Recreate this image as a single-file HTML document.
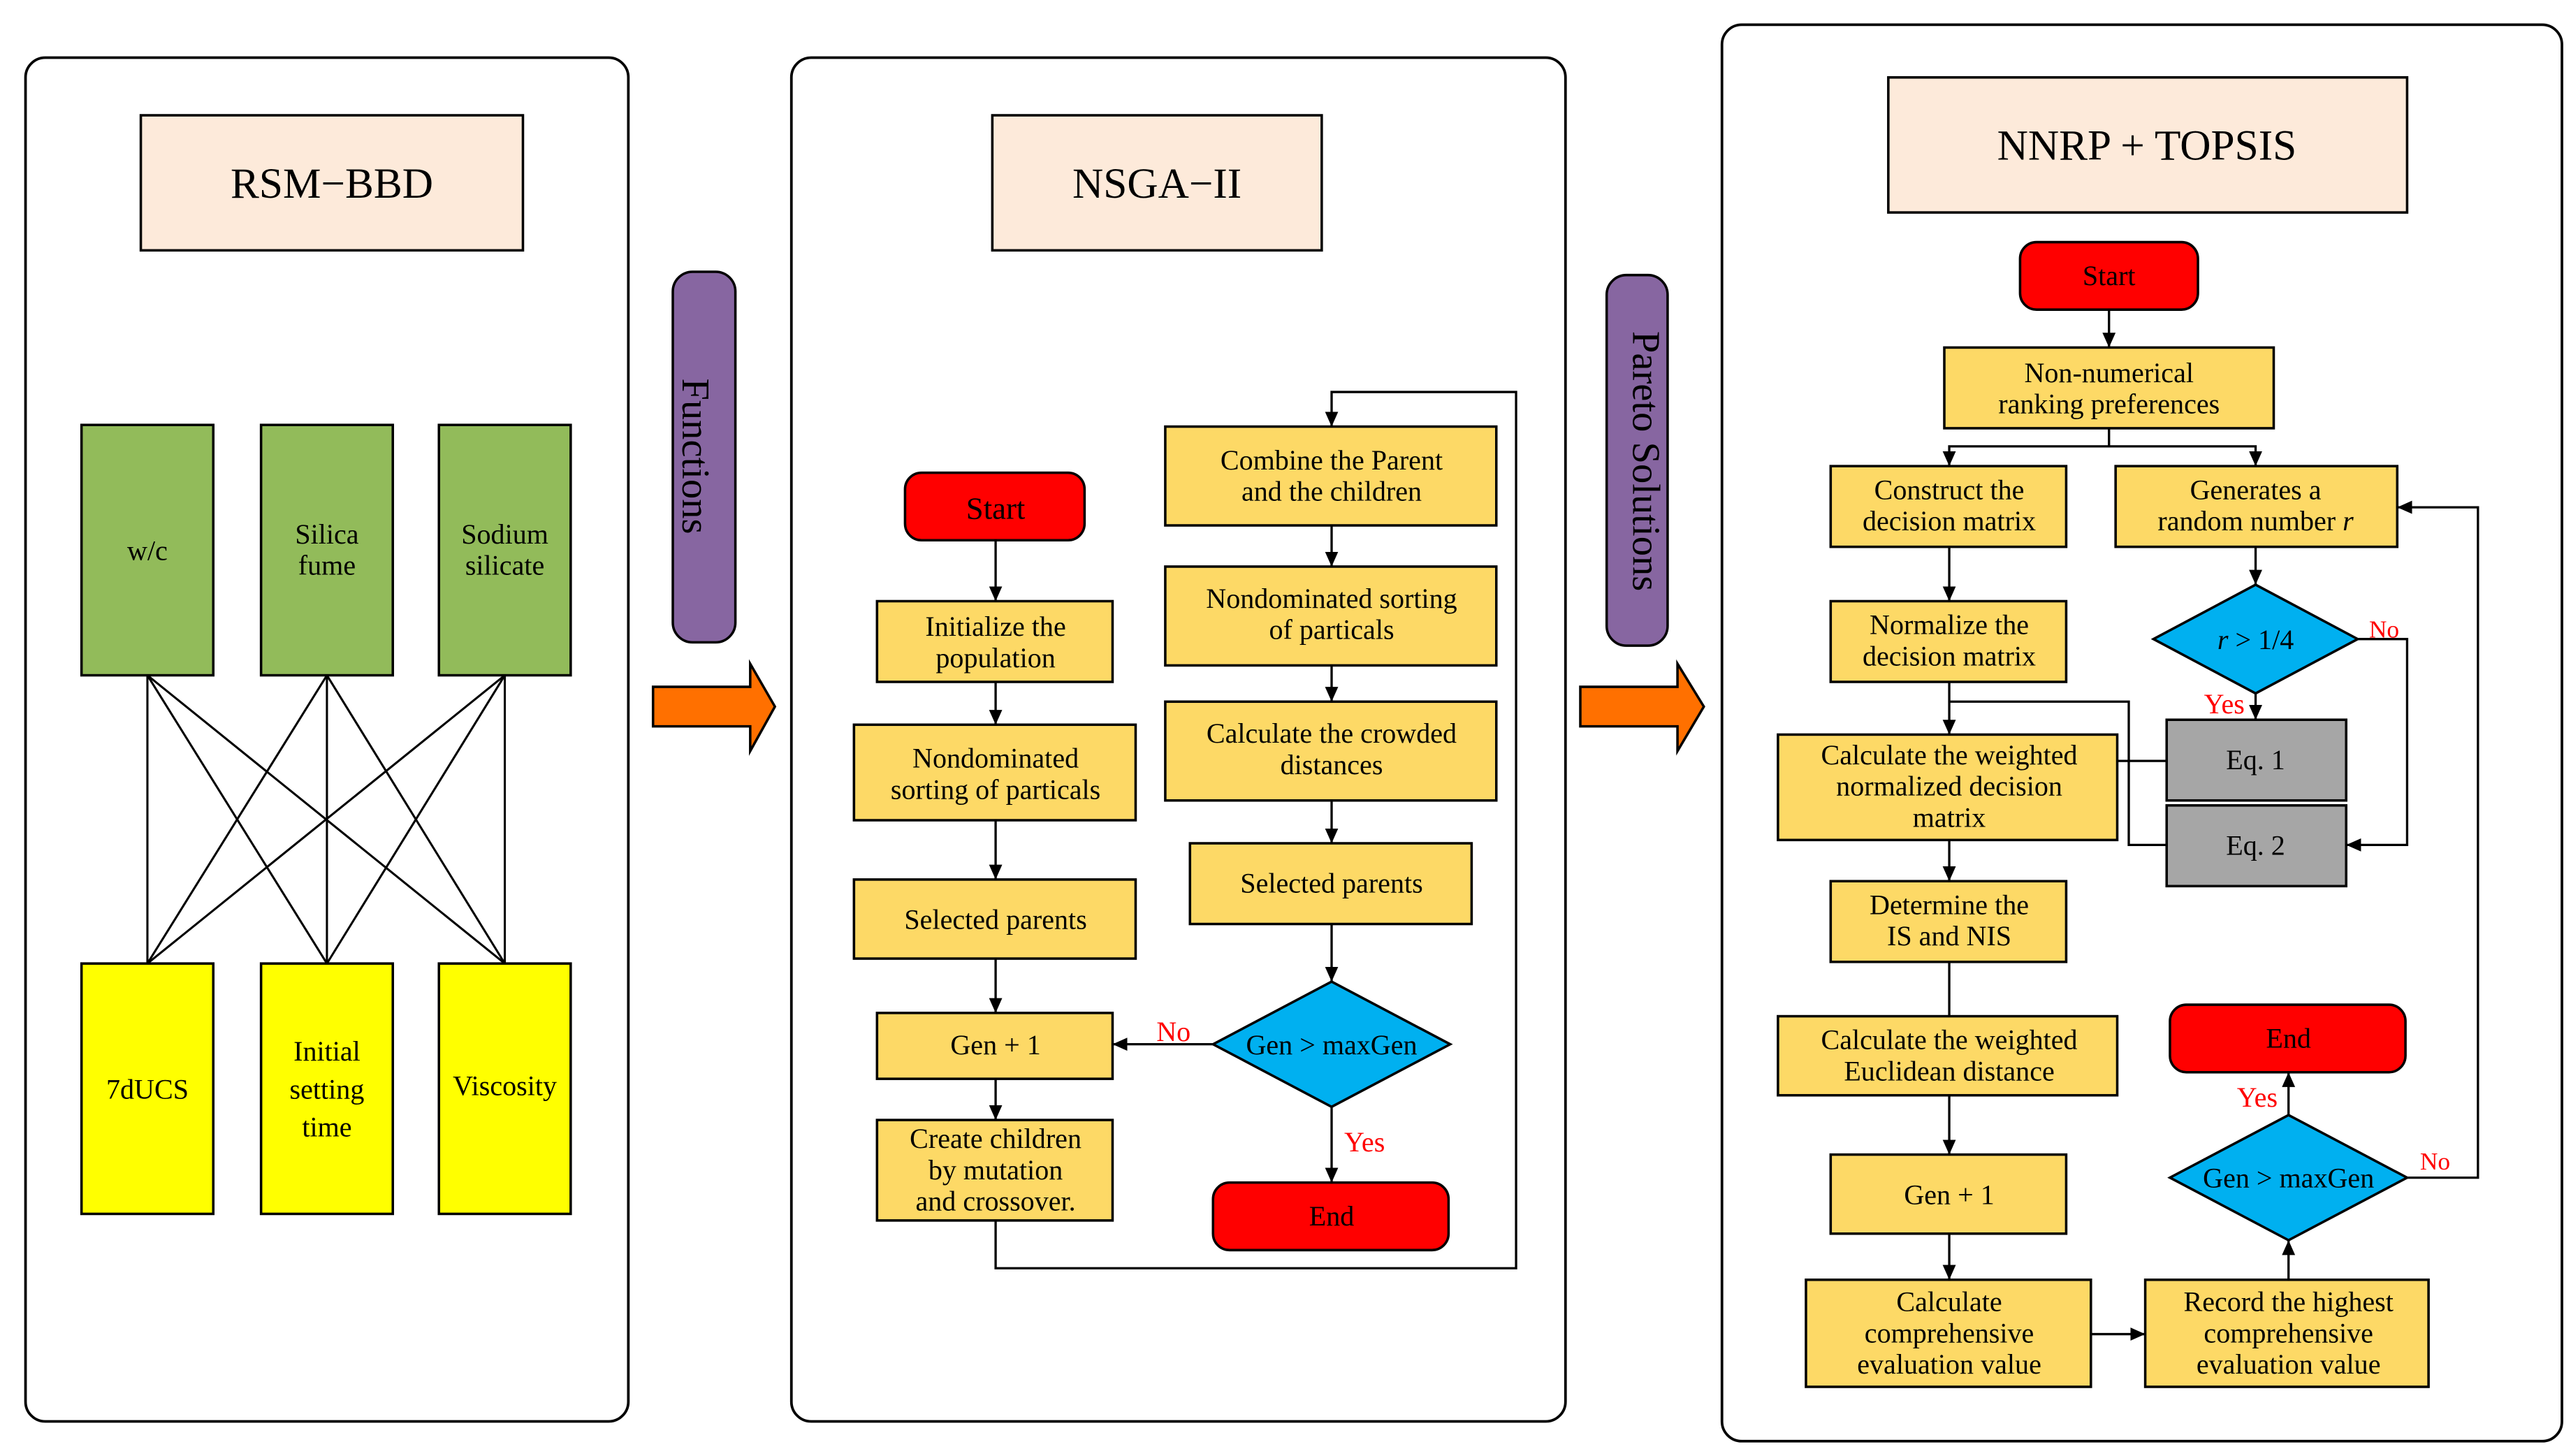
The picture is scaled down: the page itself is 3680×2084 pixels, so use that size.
<!DOCTYPE html>
<html><head><meta charset="utf-8"><style>html,body{margin:0;padding:0;background:#fff}svg{display:block}svg text{font-family:"Liberation Serif","Times New Roman",serif}</style></head><body>
<svg width="3680" height="2084" viewBox="0 0 1560 884" xmlns="http://www.w3.org/2000/svg" style="font-family:'Liberation Serif',serif">
<defs><marker id="a" markerWidth="10" markerHeight="10" refX="9" refY="5" orient="auto" markerUnits="userSpaceOnUse"><path d="M0,1 L9,5 L0,9 z" fill="#000"/></marker></defs>
<g stroke="#000" stroke-width="1.6" fill="none">
<rect x="15" y="35" width="366" height="828" rx="12"/>
<rect x="480" y="35" width="470" height="828" rx="12"/>
<rect x="1045" y="15" width="510" height="860" rx="12"/>
</g>
<g stroke="#000" stroke-width="1.5">
<rect x="85" y="70" width="232" height="82" fill="#FDEADA"/>
<rect x="602" y="70" width="200" height="82" fill="#FDEADA"/>
<rect x="1146" y="47" width="315" height="82" fill="#FDEADA"/>
<rect x="49" y="258" width="80" height="152" fill="#92BB5A"/>
<rect x="158" y="258" width="80" height="152" fill="#92BB5A"/>
<rect x="266" y="258" width="80" height="152" fill="#92BB5A"/>
<rect x="49" y="585" width="80" height="152" fill="#FFFF00"/>
<rect x="158" y="585" width="80" height="152" fill="#FFFF00"/>
<rect x="266" y="585" width="80" height="152" fill="#FFFF00"/>
<rect x="408" y="165" width="38" height="225" rx="12" fill="#8766A1"/>
<rect x="975" y="167" width="37" height="225" rx="12" fill="#8766A1"/>
<path d="M396,417 H455 V403 L470,429 L455,456 V441 H396 z" fill="#FF7000"/>
<path d="M959,417 H1018 V403 L1034,429 L1018,456 V441 H959 z" fill="#FF7000"/>
</g>
<g stroke="#000" stroke-width="1.3" fill="none">
<path d="M89,410 L89,585 M89,410 L198,585 M89,410 L306,585 M198,410 L89,585 M198,410 L198,585 M198,410 L306,585 M306,410 L89,585 M306,410 L198,585 M306,410 L306,585"/>
</g>
<g stroke="#000" stroke-width="1.4" fill="none" marker-end="url(#a)">
<path d="M604,328 V365"/><path d="M604,414 V440"/><path d="M604,498 V534"/><path d="M604,582 V615"/><path d="M604,655 V680"/>
<path d="M808,319 V344"/><path d="M808,404 V426"/><path d="M808,486 V512"/><path d="M808,561 V596"/>
<path d="M736,634 H675"/><path d="M808,672 V718"/>
<path d="M604,741 V770 H920 V238 H808 V259"/>
<path d="M1280,188 V211"/><path d="M1280,260 V271 H1183 V283"/><path d="M1280,271 H1369 V283"/>
<path d="M1183,332 V365"/><path d="M1183,414 V446"/><path d="M1183,510 V535"/>
<path d="M1369,332 V355"/><path d="M1369,421 V437"/><path d="M1431,388 H1461 V513 H1424"/>
<path d="M1183,665 V701"/><path d="M1183,749 V777"/><path d="M1269,810 H1302"/>
<path d="M1389,777 V753"/><path d="M1389,677 V651"/><path d="M1461,715 H1504 V308 H1455"/>
</g>
<g stroke="#000" stroke-width="1.4" fill="none">
<path d="M1183,426 H1292 V513 H1315"/><path d="M1285,462 H1315"/><path d="M1183,584 V617"/>
</g>
<g stroke="#000" stroke-width="1.5">
<rect x="549" y="287" width="109" height="41" rx="10" fill="#FF0000"/>
<rect x="532" y="365" width="143" height="49" fill="#FDD966"/>
<rect x="518" y="440" width="171" height="58" fill="#FDD966"/>
<rect x="518" y="534" width="171" height="48" fill="#FDD966"/>
<rect x="532" y="615" width="143" height="40" fill="#FDD966"/>
<rect x="532" y="680" width="143" height="61" fill="#FDD966"/>
<rect x="707" y="259" width="201" height="60" fill="#FDD966"/>
<rect x="707" y="344" width="201" height="60" fill="#FDD966"/>
<rect x="707" y="426" width="201" height="60" fill="#FDD966"/>
<rect x="722" y="512" width="171" height="49" fill="#FDD966"/>
<path d="M736,634 L808,596 L880,634 L808,672 z" fill="#00B0F0"/>
<rect x="736" y="718" width="143" height="41" rx="10" fill="#FF0000"/>
<rect x="1226" y="147" width="108" height="41" rx="10" fill="#FF0000"/>
<rect x="1180" y="211" width="200" height="49" fill="#FDD966"/>
<rect x="1111" y="283" width="143" height="49" fill="#FDD966"/>
<rect x="1284" y="283" width="171" height="49" fill="#FDD966"/>
<rect x="1111" y="365" width="143" height="49" fill="#FDD966"/>
<path d="M1307,388 L1369,355 L1431,388 L1369,421 z" fill="#00B0F0"/>
<rect x="1079" y="446" width="206" height="64" fill="#FDD966"/>
<rect x="1315" y="437" width="109" height="49" fill="#A6A6A6"/>
<rect x="1315" y="489" width="109" height="49" fill="#A6A6A6"/>
<rect x="1111" y="535" width="143" height="49" fill="#FDD966"/>
<rect x="1079" y="617" width="206" height="48" fill="#FDD966"/>
<rect x="1111" y="701" width="143" height="48" fill="#FDD966"/>
<rect x="1096" y="777" width="173" height="65" fill="#FDD966"/>
<rect x="1302" y="777" width="172" height="65" fill="#FDD966"/>
<path d="M1317,715 L1389,677 L1461,715 L1389,753 z" fill="#00B0F0"/>
<rect x="1317" y="610" width="143" height="41" rx="10" fill="#FF0000"/>
</g>
<g font-size="17" text-anchor="middle" fill="#000">
<text x="201" y="120" font-size="26">RSM−BBD</text>
<text x="702" y="120" font-size="26">NSGA−II</text>
<text x="1303" y="97" font-size="26">NNRP  +  TOPSIS</text>
<text x="89" y="340">w/c</text>
<text x="198" y="330">Silica</text><text x="198" y="349">fume</text>
<text x="306" y="330">Sodium</text><text x="306" y="349">silicate</text>
<text x="89" y="667">7dUCS</text>
<text x="198" y="644">Initial</text><text x="198" y="667">setting</text><text x="198" y="690">time</text>
<text x="306" y="665">Viscosity</text>
<text x="427" y="290" font-size="24" transform="rotate(90 427 277)">Functions</text>
<text x="993" y="282" font-size="24" transform="rotate(90 993 280)">Pareto Solutions</text>
<text x="604" y="315" font-size="19">Start</text>
<text x="604" y="386">Initialize the</text><text x="604" y="405">population</text>
<text x="604" y="466">Nondominated</text><text x="604" y="485">sorting of particals</text>
<text x="604" y="564">Selected parents</text>
<text x="604" y="640">Gen + 1</text>
<text x="604" y="697">Create children</text><text x="604" y="716">by mutation</text><text x="604" y="735">and crossover.</text>
<text x="808" y="285">Combine the Parent</text><text x="808" y="304">and the children</text>
<text x="808" y="369">Nondominated sorting</text><text x="808" y="388">of particals</text>
<text x="808" y="451">Calculate the crowded</text><text x="808" y="470">distances</text>
<text x="808" y="542">Selected parents</text>
<text x="808" y="640">Gen &gt; maxGen</text>
<text x="808" y="744">End</text>
<text x="712" y="632" fill="#FF0000">No</text>
<text x="828" y="699" fill="#FF0000">Yes</text>
<text x="1280" y="173">Start</text>
<text x="1280" y="232">Non-numerical</text><text x="1280" y="251">ranking preferences</text>
<text x="1183" y="303">Construct the</text><text x="1183" y="322">decision matrix</text>
<text x="1369" y="303">Generates a</text><text x="1369" y="322">random number <tspan font-style="italic">r</tspan></text>
<text x="1183" y="385">Normalize the</text><text x="1183" y="404">decision matrix</text>
<text x="1369" y="394"><tspan font-style="italic">r</tspan> &gt; 1/4</text>
<text x="1183" y="464">Calculate the weighted</text><text x="1183" y="483">normalized decision</text><text x="1183" y="502">matrix</text>
<text x="1369" y="467">Eq. 1</text><text x="1369" y="519">Eq. 2</text>
<text x="1183" y="555">Determine the</text><text x="1183" y="574">IS and NIS</text>
<text x="1183" y="637">Calculate the weighted</text><text x="1183" y="656">Euclidean distance</text>
<text x="1183" y="731">Gen + 1</text>
<text x="1183" y="796">Calculate</text><text x="1183" y="815">comprehensive</text><text x="1183" y="834">evaluation value</text>
<text x="1389" y="796">Record the highest</text><text x="1389" y="815">comprehensive</text><text x="1389" y="834">evaluation value</text>
<text x="1389" y="721">Gen &gt; maxGen</text>
<text x="1389" y="636">End</text>
<text x="1350" y="433" fill="#FF0000">Yes</text>
<text x="1447" y="387" fill="#FF0000" font-size="15">No</text>
<text x="1370" y="672" fill="#FF0000">Yes</text>
<text x="1478" y="710" fill="#FF0000" font-size="15">No</text>
</g>
</svg>
</body></html>
